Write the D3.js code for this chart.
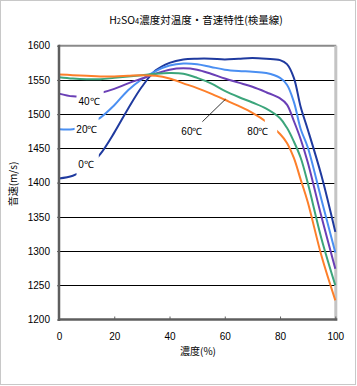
<!DOCTYPE html>
<html><head><meta charset="utf-8">
<script src="https://cdn.jsdelivr.net/npm/d3@7"></script>
<style>
html,body{margin:0;padding:0;background:#fff;}
svg{display:block;}
</style>
</head><body>
<svg id="chart" width="357" height="386"></svg>
<script>
// ---- data ----
const xTicks = [0, 20, 40, 60, 80, 100];
const yTicks = [1200, 1250, 1300, 1350, 1400, 1450, 1500, 1550, 1600];
const seriesNames = ["0℃", "20℃", "40℃", "60℃", "80℃"];
const seriesColors = ["#1f3a9f", "#4a8ff2", "#6a3fb6", "#3ca57b", "#fd7f2a"];
const t0 = [[0,1406],[5,1410],[10,1421],[15,1442],[20,1473],[25,1508],[30,1540],[35,1564],[40,1575],[45,1580],[50,1581],[55,1581],[60,1580],[65,1581],[70,1582],[75,1581],[80,1579],[82.5,1573],[85,1553],[87.5,1510],[90,1478],[95,1410],[100,1328]];
const t20 = [[0,1478],[5,1478],[10,1484],[15,1495],[20,1513],[25,1535],[30,1551],[35,1563],[40,1571],[45,1574],[50,1573],[55,1569],[60,1565],[65,1563],[70,1562],[75,1560],[80,1553],[82.5,1543],[85,1518],[87.5,1478],[90,1452],[95,1375],[100,1298]];
const t40 = [[0,1530],[5,1526],[10,1527],[15,1531],[20,1537],[25,1545],[30,1552],[35,1559],[40,1565],[45,1567],[50,1565],[55,1559],[60,1552],[65,1546],[70,1540],[75,1532],[80,1523],[82.5,1514],[85,1490],[87.5,1463],[90,1430],[95,1350],[100,1274]];
const t60 = [[0,1554],[5,1552],[10,1551],[15,1551],[20,1553],[25,1555],[30,1557],[35,1559],[40,1560],[45,1559],[50,1553],[55,1545],[60,1534],[65,1525],[70,1517],[75,1508],[80,1494],[82.5,1480],[85,1460],[87.5,1436],[90,1400],[95,1318],[100,1250]];
const t80 = [[0,1558],[5,1557],[10,1556],[15,1555],[20,1555],[25,1556],[30,1557],[35,1556],[40,1552],[45,1545],[50,1538],[55,1530],[60,1521],[65,1512],[70,1502],[75,1489],[80,1471],[82.5,1458],[85,1436],[87.5,1404],[90,1372],[95,1293],[100,1228]];
const seriesData = [t0, t20, t40, t60, t80];
// label anchor points (concentration, speed) for data labels
const labelPos = [[9.8,1426],[10.1,1478],[10.9,1519],[48.1,1474],[72.0,1475]];

// ---- drawing ----
const svg = d3.select("#chart");
const x = d3.scaleLinear().domain([0,100]).range([59,335.3]);
const y = d3.scaleLinear().domain([1200,1600]).range([319.5,45.7]);
const numFont = "'Liberation Sans', Arial, sans-serif";
const jpFont = "'Noto Sans CJK JP', sans-serif";

// outer frame
svg.append("rect").attr("x",0.5).attr("y",0.5).attr("width",355).attr("height",384)
  .attr("fill","#fff").attr("stroke","#c8c8c8").attr("stroke-width",1);

// title
const title = svg.append("text").attr("x",196).attr("y",24).attr("text-anchor","middle")
  .attr("font-family",jpFont).attr("font-size",10.5).attr("fill","#000");
title.append("tspan").text("H");
title.append("tspan").attr("font-size",7.5).text("2");
title.append("tspan").text("SO");
title.append("tspan").attr("font-size",7.5).text("4");
title.append("tspan").text("濃度対温度・音速特性(検量線)");

// gridlines
svg.append("g").selectAll("line").data(yTicks.filter(v=>v>1200 && v<1600)).join("line")
  .attr("x1",x(0)).attr("x2",x(100))
  .attr("y1",d=>Math.round(y(d))+0.5).attr("y2",d=>Math.round(y(d))+0.5)
  .attr("stroke","#000").attr("stroke-width",1);

// top and right frame
svg.append("line").attr("x1",x(0)).attr("x2",x(100)+1).attr("y1",y(1600)).attr("y2",y(1600))
  .attr("stroke","#8a8a8a").attr("stroke-width",2);
svg.append("line").attr("x1",x(100)+0.5).attr("x2",x(100)+0.5).attr("y1",y(1600)).attr("y2",y(1200)+1)
  .attr("stroke","#c4c4c4").attr("stroke-width",3);

// y axis
const yAxis = svg.append("g").attr("transform",`translate(${x(0)},0)`)
  .call(d3.axisLeft(y).tickValues(yTicks).tickSize(2).tickPadding(7).tickFormat(d3.format("d")));
yAxis.select(".domain").remove();
yAxis.selectAll(".tick line").attr("stroke","#606060");
yAxis.selectAll("text").attr("font-family",numFont).attr("font-size",10).attr("fill","#000");

// x axis
const xAxis = svg.append("g").attr("transform",`translate(0,${y(1200)})`)
  .call(d3.axisBottom(x).tickValues(xTicks).tickSize(-3).tickPadding(13).tickFormat(d3.format("d")));
xAxis.select(".domain").remove();
xAxis.selectAll(".tick line").attr("stroke","#606060").attr("stroke-width",1);
xAxis.selectAll("text").attr("font-family",numFont).attr("font-size",10).attr("fill","#000");

// series lines
const line = d3.line().x(d=>x(d[0])).y(d=>y(d[1])).curve(d3.curveCatmullRom.alpha(0.5));
svg.append("g").selectAll("path").data(seriesData).join("path")
  .attr("d",line).attr("fill","none")
  .attr("stroke",(d,i)=>seriesColors[i]).attr("stroke-width",2).attr("stroke-linejoin","round");

// left & bottom axis lines (on top)
svg.append("line").attr("x1",x(0)).attr("x2",x(0)).attr("y1",y(1600)-1).attr("y2",y(1200)+1.5)
  .attr("stroke","#5e5e5e").attr("stroke-width",2.5);
svg.append("line").attr("x1",x(0)-1).attr("x2",x(100)+2).attr("y1",y(1200)).attr("y2",y(1200))
  .attr("stroke","#5e5e5e").attr("stroke-width",2.5);

// label masks (white boxes breaking the lines, like data-label backgrounds)
const masks = [[76.5,150,22.3,29],[74.6,115,24,22],[76.5,88,27.2,20],null,[264.8,118,12.4,19]];
svg.append("g").selectAll("rect").data(masks.filter(m=>m)).join("rect")
  .attr("x",d=>d[0]).attr("y",d=>d[1]).attr("width",d=>d[2]).attr("height",d=>d[3]).attr("fill","#fff");

// leader line for 60℃
svg.append("line").attr("x1",x(51.9)).attr("y1",y(1489)).attr("x2",x(60.3)).attr("y2",y(1522))
  .attr("stroke","#000").attr("stroke-width",0.8);

// data labels
svg.append("g").selectAll("text").data(seriesNames).join("text")
  .attr("x",(d,i)=>x(labelPos[i][0])).attr("y",(d,i)=>y(labelPos[i][1]))
  .attr("text-anchor","middle").attr("dy","0.35em")
  .attr("font-family",numFont).attr("font-size",10).attr("fill","#000")
  .text(d=>d);

// axis titles
svg.append("text").attr("x",198).attr("y",355).attr("text-anchor","middle")
  .attr("font-family",jpFont).attr("font-size",10).attr("fill","#000").text("濃度(%)");
svg.append("text").attr("transform","translate(17,184) rotate(-90)").attr("text-anchor","middle")
  .attr("font-family",jpFont).attr("font-size",10).attr("fill","#000").text("音速(m/s)");
</script>
</body></html>
